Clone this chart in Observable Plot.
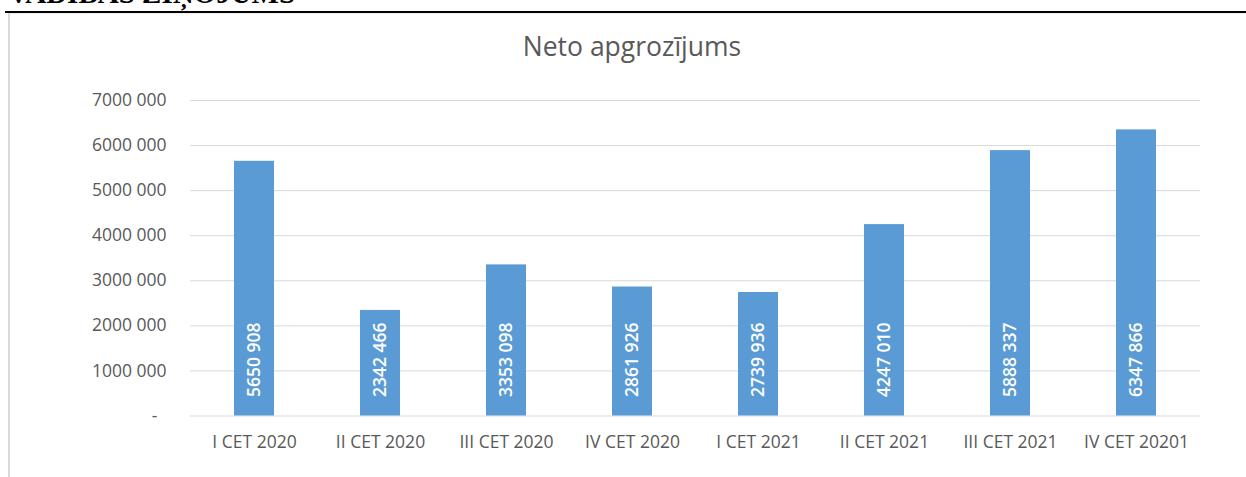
<!DOCTYPE html>
<html>
<head>
<meta charset="utf-8">
<script src="https://cdn.jsdelivr.net/npm/d3@7"></script>
<script src="https://cdn.jsdelivr.net/npm/@observablehq/plot@0.6"></script>
<style>
  html, body { margin: 0; padding: 0; background: #fff; overflow: hidden; }
  #wrap { position: relative; width: 1246px; height: 477px; overflow: hidden; }
  #header { position: absolute; left: 8px; top: -21px; font-family: "Liberation Serif", serif; font-weight: bold; font-size: 29px; line-height: 29px; color: #000; white-space: nowrap; }
  #rule { position: absolute; left: 5px; right: 0; top: 11px; height: 2px; background: #000; }
  #box { position: absolute; left: 8px; top: 13px; width: 1300px; height: 500px; border-left: 2px solid #d9d9d9; border-top: 1px solid #eeeeee; box-sizing: border-box; }
  #title { position: absolute; left: 0; width: 1264px; top: 32.5px; text-align: center; font-family: "Open Sans", sans-serif; font-size: 26.5px; line-height: 26.5px; color: #595959; }
  #chart { position: absolute; left: 0; top: 0; }
</style>
</head>
<body>
<div id="wrap">
  <div id="header">VADĪBAS ZIŅOJUMS</div>
  <div id="rule"></div>
  <div id="box"></div>
  <div id="chart"></div>
  <div id="title">Neto apgrozījums</div>
</div>
<script>
const categories = ["I CET 2020", "II CET 2020", "III CET 2020", "IV CET 2020", "I CET 2021", "II CET 2021", "III CET 2021", "IV CET 20201"];
const values = [5650908, 2342466, 3353098, 2861926, 2739936, 4247010, 5888337, 6347866];
const yTicks = [0, 1000000, 2000000, 3000000, 4000000, 5000000, 6000000, 7000000];

const data = categories.map((c, i) => ({category: c, value: values[i]}));
const fmt = v => { const s = String(Math.round(v)); return s.slice(0, -3) + " " + s.slice(-3); };
const yFmt = v => v === 0 ? "-\u00a0\u00a0" : fmt(v);

const chart = Plot.plot({
  width: 1246,
  height: 477,
  marginLeft: 190,
  marginRight: 46,
  marginTop: 100,
  marginBottom: 61.5,
  style: {background: "transparent", fontFamily: "Open Sans, sans-serif"},
  x: {domain: categories, paddingInner: 0.683, paddingOuter: 0.3415, label: null},
  y: {domain: [0, 7000000], label: null},
  marks: [
    Plot.ruleY(yTicks, {stroke: "#d9d9d9", strokeWidth: 1}),
    Plot.barY(data, {x: "category", y: "value", fill: "#5B9BD5"}),
    Plot.text(data, {x: "category", y: 0, text: d => fmt(d.value), rotate: -90, textAnchor: "start", lineAnchor: "middle", dy: -19, fill: "white", fontWeight: 600, fontSize: 17.5}),
    Plot.axisY({ticks: yTicks, tickFormat: yFmt, tickSize: 0, tickPadding: 24, fontSize: 17.5, color: "#595959", label: null}),
    Plot.axisX({tickSize: 0, tickPadding: 19.5, fontSize: 17.5, color: "#595959", label: null})
  ]
});
document.getElementById("chart").appendChild(chart);
</script>
</body>
</html>
